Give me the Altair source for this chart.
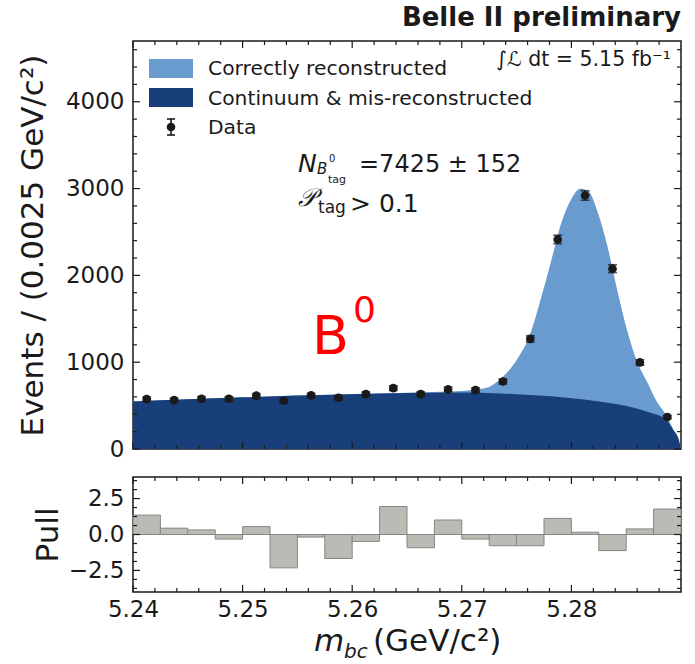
import math
import altair as alt
import pandas as pd

# ---------------- data ----------------
# m_bc histogram: 20 bins of 2.5 MeV between 5.24 and 5.29 GeV
bin_edges = [5.2400, 5.2425, 5.2450, 5.2475, 5.2500, 5.2525, 5.2550, 5.2575,
             5.2600, 5.2625, 5.2650, 5.2675, 5.2700, 5.2725, 5.2750, 5.2775,
             5.2800, 5.2825, 5.2850, 5.2875, 5.2900]
counts = [575, 563, 579, 579, 614, 556, 617, 590, 632, 701,
          632, 686, 678, 778, 1269, 2414, 2920, 2077, 997, 368]
pulls = [1.35, 0.44, 0.32, -0.32, 0.55, -2.32, -0.18, -1.67, -0.48, 1.95,
         -0.92, 1.01, -0.32, -0.78, -0.78, 1.12, 0.16, -1.12, 0.39, 1.77]

# fitted model: total (signal + background) and background only
fit_mass = [5.2400, 5.2450, 5.2500, 5.2550, 5.2600, 5.2650, 5.2680, 5.2700,
            5.2715, 5.2725, 5.2735, 5.2751, 5.2762, 5.2773, 5.2782, 5.2791,
            5.2800, 5.2808, 5.2815, 5.2824, 5.2833, 5.2842, 5.2851, 5.2860,
            5.2869, 5.2878, 5.2887, 5.2893, 5.2897, 5.2900]
fit_total = [548, 572, 595, 615, 633, 648, 660, 668,
             690, 715, 805, 1042, 1310, 1770, 2190, 2613,
             2880, 2997, 2977, 2728, 2330, 1820, 1360, 1004,
             775, 545, 380, 225, 110, 0]
bkg_mass = [5.2400, 5.2450, 5.2500, 5.2550, 5.2600, 5.2650, 5.2700, 5.2735,
            5.2766, 5.2796, 5.2827, 5.2857, 5.2872, 5.2885, 5.2893, 5.2898,
            5.2900]
bkg_vals = [548, 572, 595, 615, 632, 646, 652, 640,
            618, 590, 545, 476, 418, 353, 218, 110, 0]

y_major = [0, 1000, 2000, 3000, 4000]
y_minor = [v for v in range(200, 4800, 200) if v % 1000 != 0]
x_major = [5.24, 5.25, 5.26, 5.27, 5.28]
x_minor = [5.242, 5.244, 5.246, 5.248, 5.252, 5.254, 5.256, 5.258,
           5.262, 5.264, 5.266, 5.268, 5.272, 5.274, 5.276, 5.278,
           5.282, 5.284, 5.286, 5.288]
pull_major = [-2.5, 0.0, 2.5]
pull_minor = [-3.75, -3.125, -1.875, -1.25, -0.625, 0.625, 1.25, 1.875, 3.125, 3.75]

# ---------------- style ----------------
LIGHT = "#6a9bce"
DARK = "#193f7b"
PULL_FILL = "#b8bcb4"
PULL_EDGE = "#848882"
INK = "#1a1a1a"
FONT = "DejaVu Sans"

W, H, PH = 548, 408, 115

hist = pd.DataFrame({
    "lo": bin_edges[:-1],
    "hi": bin_edges[1:],
    "n": counts,
    "pull": pulls,
})
hist["c"] = (hist["lo"] + hist["hi"]) / 2
hist["err_lo"] = [n - math.sqrt(n) for n in counts]
hist["err_hi"] = [n + math.sqrt(n) for n in counts]

total_df = pd.DataFrame({"m": fit_mass, "v": fit_total})
bkg_df = pd.DataFrame({"m": bkg_mass, "v": bkg_vals})
one = pd.DataFrame({"k": [0]})

xs = alt.Scale(domain=[5.24, 5.29], nice=False, zero=False)
ys = alt.Scale(domain=[0, 4700], nice=False)
ps = alt.Scale(domain=[-4, 4], nice=False)

# one axis definition per scale, shared by every layer so they merge cleanly
x_axis_main = alt.Axis(labels=False, ticks=False, domain=False, grid=False, title=None)
y_axis_main = alt.Axis(
    values=y_major, format="d", grid=False, domain=False, ticks=False,
    labelFontSize=23, labelPadding=9, labelFont=FONT, labelColor=INK, labelFlush=False,
    title="Events / (0.0025 GeV/c²)", titleFontSize=31, titleFont=FONT,
    titleFontWeight="normal", titleColor=INK, titlePadding=16)
x_axis_pull = alt.Axis(
    values=x_major, format=".2f", grid=False, domain=False, ticks=False,
    labelFontSize=23, labelPadding=6, labelFont=FONT, labelColor=INK,
    labelFlush=False, labelOverlap=False, title=None)
y_axis_pull = alt.Axis(
    values=pull_major, format=".1f", grid=False, domain=False, ticks=False,
    labelFontSize=23, labelPadding=9, labelFont=FONT, labelColor=INK, labelFlush=False,
    title="Pull", titleFontSize=31, titleFont=FONT, titleFontWeight="normal",
    titleColor=INK, titlePadding=4)


def inner_ticks(vals, scale, axis_ch, length, width, height, axis):
    """Matplotlib-style ticks pointing into the frame on both sides."""
    d = pd.DataFrame({"t": vals})
    base = alt.Chart(d).mark_rule(color=INK, strokeWidth=1.2)
    if axis_ch == "y":
        enc = alt.Y("t:Q", scale=scale, axis=axis)
        return (base.encode(y=enc, x=alt.value(0), x2=alt.value(length))
                + base.encode(y=enc, x=alt.value(width - length), x2=alt.value(width)))
    enc = alt.X("t:Q", scale=scale, axis=axis)
    return (base.encode(x=enc, y=alt.value(0), y2=alt.value(length))
            + base.encode(x=enc, y=alt.value(height - length), y2=alt.value(height)))


def label(text, x, y, size, color=INK, weight="normal", style="normal", align="left"):
    return alt.Chart(one).mark_text(
        text=text, font=FONT, fontSize=size, color=color, fontWeight=weight,
        fontStyle=style, align=align, baseline="alphabetic",
    ).encode(x=alt.value(x), y=alt.value(y))


# ---------------- main panel ----------------
def mx(field):
    return alt.X(field, scale=xs, axis=x_axis_main)


def my(field):
    return alt.Y(field, scale=ys, axis=y_axis_main)


total_area = alt.Chart(total_df).mark_area(color=LIGHT, interpolate="monotone", clip=True).encode(
    x=mx("m:Q"), y=my("v:Q"))
bkg_area = alt.Chart(bkg_df).mark_area(color=DARK, interpolate="monotone", clip=True).encode(
    x=mx("m:Q"), y=my("v:Q"))

err_bars = alt.Chart(hist).mark_rule(color=INK, strokeWidth=1.6).encode(
    x=mx("c:Q"), y=my("err_lo:Q"), y2="err_hi:Q")
cap_lo = alt.Chart(hist).mark_tick(color=INK, orient="horizontal", size=9, thickness=1.6).encode(
    x=mx("c:Q"), y=my("err_lo:Q"))
cap_hi = alt.Chart(hist).mark_tick(color=INK, orient="horizontal", size=9, thickness=1.6).encode(
    x=mx("c:Q"), y=my("err_hi:Q"))
points = alt.Chart(hist).mark_circle(color=INK, size=75, opacity=1).encode(
    x=mx("c:Q"), y=my("n:Q"))

# legend (drawn by hand, top left inside the frame)
leg_sw1 = alt.Chart(one).mark_rect(color=LIGHT).encode(
    x=alt.value(16), x2=alt.value(60), y=alt.value(18), y2=alt.value(37))
leg_sw2 = alt.Chart(one).mark_rect(color=DARK).encode(
    x=alt.value(16), x2=alt.value(60), y=alt.value(47), y2=alt.value(66))
leg_bar = alt.Chart(one).mark_rule(color=INK, strokeWidth=1.6).encode(
    x=alt.value(38), y=alt.value(78), y2=alt.value(94))
leg_cap1 = alt.Chart(one).mark_rule(color=INK, strokeWidth=1.6).encode(
    x=alt.value(34), x2=alt.value(42), y=alt.value(78))
leg_cap2 = alt.Chart(one).mark_rule(color=INK, strokeWidth=1.6).encode(
    x=alt.value(34), x2=alt.value(42), y=alt.value(94))
leg_pt = alt.Chart(one).mark_circle(color=INK, size=75, opacity=1).encode(
    x=alt.value(38), y=alt.value(86))
leg_txt = (label("Correctly reconstructed", 75, 34, 20.3)
           + label("Continuum & mis-reconstructed", 75, 64, 20.3)
           + label("Data", 75, 93, 20.3))

annotations = (
    label("Belle II preliminary", W, -15, 26, weight="bold", align="right")
    + label("∫ℒ dt = 5.15 fb⁻¹", 538, 25, 20.5, align="right")
    + label("N", 165, 131, 25, style="italic")
    + label("B", 184, 133, 15, style="italic")
    + label("0", 196, 121, 10)
    + label("tag", 195, 142, 11)
    + label("=7425 ± 152", 226, 131, 24)
    + label("𝒫", 165, 165, 25, style="italic")
    + label("tag", 185, 172, 17)
    + label("> 0.1", 217, 171, 25)
    + label("B", 179, 313, 54, color="#ff0000")
    + label("0", 220, 281, 36, color="#ff0000")
)

main = alt.layer(
    total_area, bkg_area, err_bars, cap_lo, cap_hi, points,
    inner_ticks(y_major, ys, "y", 7, W, H, y_axis_main),
    inner_ticks(y_minor, ys, "y", 4, W, H, y_axis_main),
    inner_ticks(x_major, xs, "x", 7, W, H, x_axis_main),
    inner_ticks(x_minor, xs, "x", 4, W, H, x_axis_main),
    leg_sw1, leg_sw2, leg_bar, leg_cap1, leg_cap2, leg_pt, leg_txt,
    annotations,
).properties(width=W, height=H)

# ---------------- pull panel ----------------
pull_bars = alt.Chart(hist).mark_rect(color=PULL_FILL, stroke=PULL_EDGE, strokeWidth=1).encode(
    x=alt.X("lo:Q", scale=xs, axis=x_axis_pull),
    x2="hi:Q",
    y=alt.Y("pull:Q", scale=ps, axis=y_axis_pull),
    y2=alt.datum(0),
)

xlabel = (label("m", 181, 174, 31, style="italic")
          + label("bc", 211, 181, 20, style="italic")
          + label("(GeV/c²)", 240, 174, 31))

pull = alt.layer(
    pull_bars,
    inner_ticks(pull_major, ps, "y", 7, W, PH, y_axis_pull),
    inner_ticks(pull_minor, ps, "y", 4, W, PH, y_axis_pull),
    inner_ticks(x_major, xs, "x", 7, W, PH, x_axis_pull),
    inner_ticks(x_minor, xs, "x", 4, W, PH, x_axis_pull),
    xlabel,
).properties(width=W, height=PH)

chart = alt.vconcat(main, pull, spacing=13).properties(
    padding={"left": 16, "top": 4, "right": 5, "bottom": 5},
    background="white",
).configure_view(stroke=INK, strokeWidth=1.5)

chart.save("out.html", embed_options={"renderer": "svg", "actions": False})
